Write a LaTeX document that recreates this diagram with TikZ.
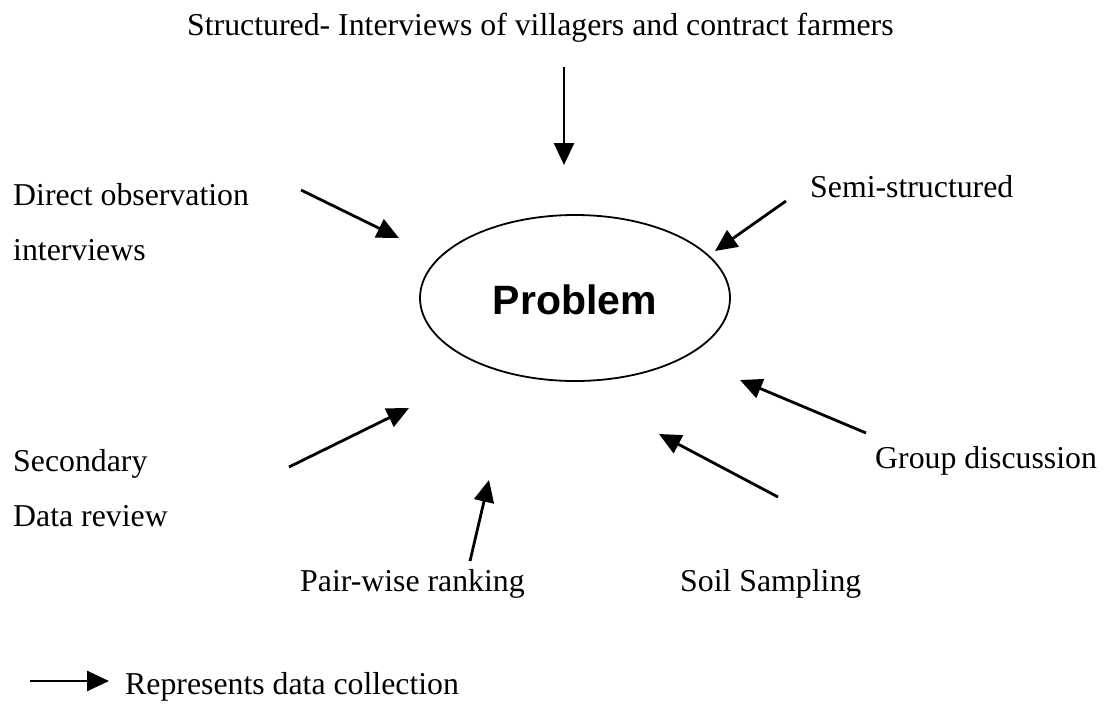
\documentclass[tikz,border=0pt]{standalone}
\usepackage{fontspec}
\setmainfont{Liberation Serif}
\newfontfamily\headfont{Liberation Sans}
\usetikzlibrary{arrows.meta,shapes.geometric}
\begin{document}
\begin{tikzpicture}[x=1pt,y=-1pt,
  lbl/.style={inner sep=0pt, font=\fontsize{31.8}{36}\selectfont},
  flow/.style={line width=2.8pt, -{Triangle[length=22pt,width=20pt]}},
  core/.style={ellipse, draw, line width=1.8pt, minimum width=310pt, minimum height=166pt, inner sep=0pt}]
\useasboundingbox (0,0) rectangle (1105,707);

% central problem
\node[core] (prob) at (575,298) {};
\node[inner sep=0pt, font=\headfont\bfseries\fontsize{41}{48}\selectfont] (probtxt) at (575,300) {Problem};

% labels
\node[lbl, anchor=base west] (struct) at (187,35) {Structured- Interviews of villagers and contract farmers};
\node[lbl, anchor=base west] (direct) at (13,205) {Direct observation};
\node[lbl, anchor=base west] (interv) at (13,260) {interviews};
\node[lbl, anchor=base west] (semi) at (810,197) {Semi-structured};
\node[lbl, anchor=base west] (second) at (13,471) {Secondary};
\node[lbl, anchor=base west] (datarev) at (13,526) {Data review};
\node[lbl, anchor=base west] (pair) at (300,591) {Pair-wise ranking};
\node[lbl, anchor=base west] (soil) at (680,591) {Soil Sampling};
\node[lbl, anchor=base west] (group) at (875,468) {Group discussion};
\node[lbl, anchor=base west] (legtxt) at (125,694) {Represents data collection};

% arrow ends
\coordinate (s1) at (564,67);   \coordinate (t1) at (564,165);
\coordinate (s2) at (301,190);  \coordinate (t2) at (399,238);
\coordinate (s3) at (786,201);  \coordinate (t3) at (715,251);
\coordinate (s4) at (289,467);  \coordinate (t4) at (409,408);
\coordinate (s5) at (470,561);  \coordinate (t5) at (489,480);
\coordinate (s6) at (778,497);  \coordinate (t6) at (659,434);
\coordinate (s7) at (866,433);  \coordinate (t7) at (740,380);
\coordinate (s8) at (30,681);   \coordinate (t8) at (109,681);

\foreach \i in {1,...,8} \draw[flow] (s\i) -- (t\i);
\end{tikzpicture}
\end{document}
